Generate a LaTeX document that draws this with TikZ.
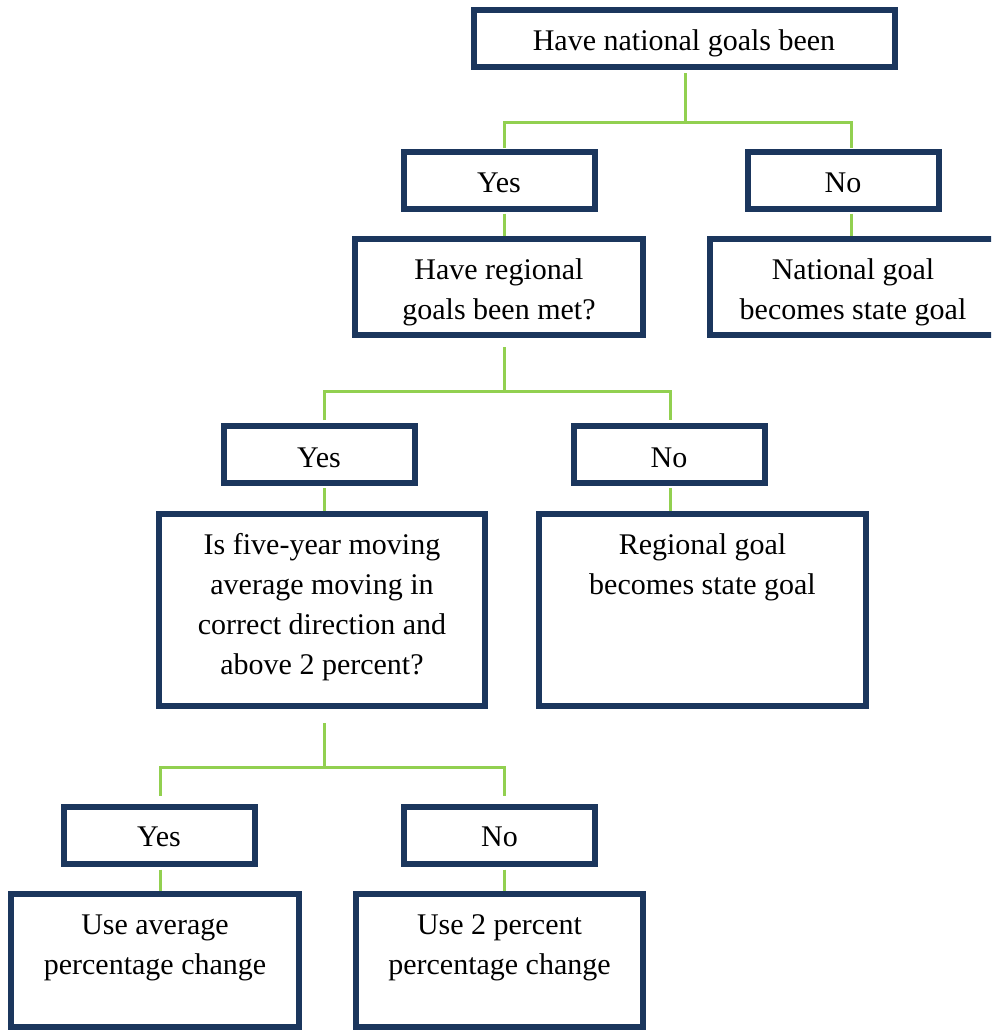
\documentclass[tikz,border=0pt]{standalone}
\usepackage{fontspec}
\setmainfont{Liberation Serif}
\usetikzlibrary{calc}
\definecolor{navy}{RGB}{27,54,93}
\definecolor{lgreen}{RGB}{146,208,80}
\begin{document}
\begin{tikzpicture}[x=1pt,y=-1pt,
  box/.style={draw=navy, line width=6pt, fill=white, inner sep=0pt, outer sep=0pt},
  yn/.style={box, minimum width=191pt, minimum height=57pt},
  txt/.style={inner sep=0pt, align=center, font=\fontsize{30}{40}\selectfont},
  conn/.style={draw=lgreen, line width=3pt}]
\clip (0,0) rectangle (991,1030);
\fill[white] (0,0) rectangle (991,1030);

% boxes
\node[box, minimum width=421pt, minimum height=57pt] (top) at (684,39) {};
\node[yn] (yes1) at (499,180) {};
\node[yn] (no1) at (843,180) {};
\node[box, minimum width=288pt, minimum height=96pt] (regq) at (499,287) {};
\node[box, minimum width=286pt, minimum height=96pt] (natg) at (853,287) {};
\node[yn] (yes2) at (319,454.5) {};
\node[yn] (no2) at (669,454.5) {};
\node[box, minimum width=326pt, minimum height=192pt] (five) at (322,610) {};
\node[box, minimum width=327pt, minimum height=192pt] (regg) at (702.5,610) {};
\node[yn] (yes3) at (159,835) {};
\node[yn] (no3) at (499.5,835) {};
\node[box, minimum width=288pt, minimum height=133pt] (useavg) at (155,960.5) {};
\node[box, minimum width=287pt, minimum height=133pt] (use2) at (499.5,960.5) {};

% texts
\node[txt] (topT) at ($(top)+(0,4)$) {Have national goals been};
\node[txt] (yes1T) at ($(yes1)+(0,3)$) {Yes};
\node[txt] (no1T) at ($(no1)+(0,3)$) {No};
\node[txt] (regqT) at ($(regq)+(0,5.5)$) {Have regional\\goals been met?};
\node[txt] (natgT) at ($(natg)+(0,5.5)$) {National goal\\becomes state goal};
\node[txt] (yes2T) at ($(yes2)+(0,3)$) {Yes};
\node[txt] (no2T) at ($(no2)+(0,3)$) {No};
\node[txt] (fiveT) at ($(five)+(0,-2.5)$) {Is five-year moving\\average moving in\\correct direction and\\above 2 percent?};
\node[txt] (reggT) at (702.5,567) {Regional goal\\becomes state goal};
\node[txt] (yes3T) at ($(yes3)+(0,2)$) {Yes};
\node[txt] (no3T) at ($(no3)+(0,2)$) {No};
\node[txt] (useavgT) at (155,947.5) {Use average\\percentage change};
\node[txt] (use2T) at (499.5,947.5) {Use 2 percent\\percentage change};

% connectors
\coordinate (j1) at (685,123);
\draw[conn] (top.south -| j1) ++(0,6) -- (j1);
\draw[conn] ($(yes1.north)+(5,-4)$) |- (j1) -| ($(no1.north)+(8,-4)$);
\draw[conn] ($(yes1.south)+(5,5)$) -- ($(regq.north)+(5,-3)$);
\draw[conn] ($(no1.south)+(8,5)$) -- ($(natg.north)+(-2,-3)$);

\coordinate (j2) at (504,391);
\draw[conn] (regq.south -| j2) ++(0,12) -- (j2);
\draw[conn] ($(yes2.north)+(5,-6)$) |- (j2) -| ($(no2.north)+(1,-6)$);
\draw[conn] ($(yes2.south)+(5,5)$) -- ($(five.north)+(2,-3)$);
\draw[conn] ($(no2.south)+(1,5)$) -- ($(regg.north)+(-32.5,-3)$);

\coordinate (j3) at (324,767);
\draw[conn] (five.south -| j3) ++(0,17) -- (j3);
\draw[conn] ($(yes3.north)+(1,-11)$) |- (j3) -| ($(no3.north)+(4.5,-11)$);
\draw[conn] ($(yes3.south)+(1,6)$) -- ($(useavg.north)+(5,-3)$);
\draw[conn] ($(no3.south)+(4.5,6)$) -- ($(use2.north)+(4.5,-3)$);
\end{tikzpicture}
\end{document}
